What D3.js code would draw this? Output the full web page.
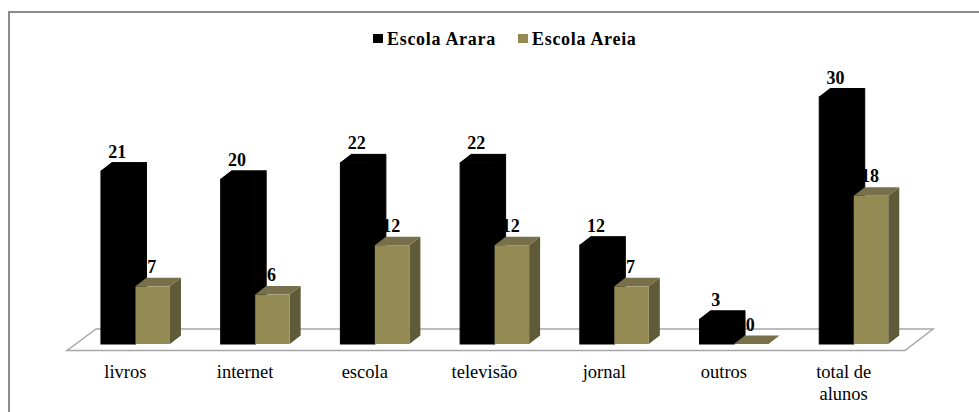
<!DOCTYPE html>
<html><head><meta charset="utf-8">
<script src="https://cdn.jsdelivr.net/npm/d3@7/dist/d3.min.js"></script>
<style>html,body{margin:0;padding:0;background:#fff}svg{display:block}text{font-family:"Liberation Serif","Times New Roman",serif}</style>
</head><body><svg id="c" width="979" height="412"></svg>
<script>
const categories = ["livros","internet","escola","televisão","jornal","outros","total de|alunos"];
const seriesNames = ["Escola Arara","Escola Areia"];
const arara = [21,20,22,22,12,3,30];
const areia = [7,6,12,12,7,0,18];
const svg = d3.select("#c");
const front = ["#000000","#948a54"], side = ["#000000","#5f5a37"], top_ = ["#000000","#77704a"];
const dx = 11, dy = 8.5, baseY = 344;
const x = d3.scaleBand().domain(categories).range([67,905]);
const sub = d3.scaleBand().domain([0,1]).range([0,69]);
const y = d3.scaleLinear().domain([0,30]).range([baseY,97]);
svg.append("path").attr("fill","none").attr("stroke","#8c8c8c").attr("stroke-width",2)
  .attr("d","M9,412V12H979");
svg.append("path").attr("fill","#fff").attr("stroke","#a6a6a6").attr("stroke-width",1.5)
  .attr("d",d3.line()([[67,350.5],[96,329],[933,329],[905,350.5]])+"Z");
const g = svg.append("g");
[arara,areia].forEach((vals,s)=>{
  vals.forEach((v,i)=>{
    const x0 = x(categories[i]) + x.bandwidth()/2 + 8.6 - 34.5 + sub(s), w = sub.bandwidth(), t = y(v);
    const p = a=>d3.line()(a)+"Z";
    const sd = g.append("path").attr("fill",side[s]).attr("d",p([[x0+w,t],[x0+w+dx,t-dy],[x0+w+dx,baseY-dy],[x0+w,baseY]]));
    const tp = g.append("path").attr("fill",top_[s]).attr("d",p([[x0,t],[x0+dx,t-dy],[x0+w+dx,t-dy],[x0+w,t]]));
    let fr = null;
    if(v>0) fr = g.append("rect").attr("x",x0).attr("y",t).attr("width",w).attr("height",baseY-t).attr("fill",front[s]);
    if(s===0) [sd,tp,fr].forEach(m=>m&&m.attr("stroke","#000").attr("stroke-width",1));
  });
});
[arara,areia].forEach((vals,s)=>vals.forEach((v,i)=>{
  const x0 = x(categories[i]) + x.bandwidth()/2 + 8.6 - 34.5 + sub(s);
  g.append("text").attr("x",x0+sub.bandwidth()/2-1).attr("y",y(v)-dy-5).attr("text-anchor","middle")
   .attr("font-size",18).attr("font-weight","bold").attr("fill","#000").text(v);
}));
categories.forEach(c=>{
  const t = svg.append("text").attr("text-anchor","middle").attr("font-size",18.5).attr("fill","#000");
  c.split("|").forEach((l,j)=>t.append("tspan").attr("x",x(c)+x.bandwidth()/2-1.5).attr("y",378+j*22).text(l));
});
const legend = [[373,seriesNames[0]],[518,seriesNames[1]]];
legend.forEach(([lx,name],s)=>{
  svg.append("rect").attr("x",lx).attr("y",34).attr("width",10).attr("height",9).attr("fill",front[s]);
  svg.append("text").attr("x",lx+14).attr("y",45).attr("font-size",18).attr("font-weight","bold").attr("letter-spacing",0.7).attr("fill","#000").text(name);
});
</script></body></html>
